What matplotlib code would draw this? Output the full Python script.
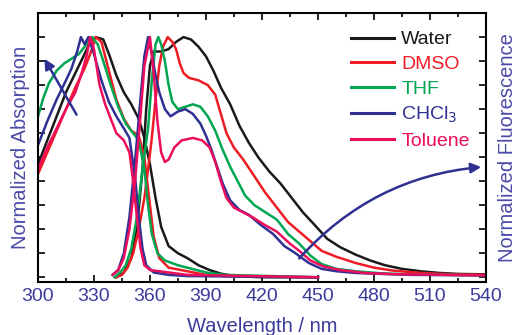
import matplotlib.pyplot as plt
from matplotlib.ticker import MultipleLocator, NullFormatter

plt.rcParams['font.family'] = ['Liberation Sans', 'DejaVu Sans']

# ---- absorption spectra (wavelength nm, normalized value) ----
water_abs_x = [300, 305, 310, 315, 320, 325, 328, 331, 335, 338, 342, 346, 350, 354, 357, 360, 363, 366, 370, 375, 380, 386, 392, 398, 405, 420, 450]
water_abs_y = [0.47, 0.57, 0.67, 0.77, 0.85, 0.93, 0.98, 1.0, 0.99, 0.93, 0.84, 0.77, 0.72, 0.66, 0.58, 0.47, 0.33, 0.21, 0.13, 0.1, 0.08, 0.05, 0.03, 0.015, 0.005, 0.0, 0.0]

dmso_abs_x = [300, 305, 310, 315, 320, 325, 328, 331, 334, 338, 342, 346, 350, 354, 357, 360, 362, 365, 370, 380, 390, 400, 450]
dmso_abs_y = [0.43, 0.52, 0.61, 0.7, 0.79, 0.87, 0.93, 1.0, 0.98, 0.86, 0.74, 0.66, 0.61, 0.59, 0.5, 0.3, 0.17, 0.08, 0.04, 0.025, 0.01, 0.005, 0.0]

thf_abs_x = [300, 303, 306, 310, 314, 318, 322, 325, 329, 332, 335, 339, 343, 347, 351, 354, 357, 359, 361, 364, 368, 375, 380, 390, 400, 450]
thf_abs_y = [0.67, 0.75, 0.81, 0.86, 0.89, 0.91, 0.93, 0.96, 1.0, 0.97, 0.9, 0.8, 0.71, 0.64, 0.6, 0.57, 0.45, 0.3, 0.18, 0.1, 0.07, 0.05, 0.04, 0.02, 0.01, 0.0]

chcl3_abs_x = [300, 305, 310, 315, 318, 321, 323, 325, 327, 330, 334, 338, 342, 346, 349, 352, 354, 356, 358, 362, 370, 380, 450]
chcl3_abs_y = [0.55, 0.65, 0.74, 0.82, 0.87, 0.94, 1.0, 0.97, 1.0, 0.93, 0.82, 0.73, 0.67, 0.62, 0.58, 0.42, 0.25, 0.12, 0.05, 0.02, 0.01, 0.005, 0.0]

tol_abs_x = [300, 305, 310, 315, 320, 323, 326, 328, 330, 333, 336, 339, 342, 346, 349, 351, 353, 355, 357, 360, 370, 380, 450]
tol_abs_y = [0.45, 0.54, 0.62, 0.7, 0.77, 0.84, 0.92, 1.0, 0.95, 0.8, 0.72, 0.66, 0.6, 0.57, 0.52, 0.4, 0.25, 0.12, 0.05, 0.03, 0.02, 0.01, 0.0]

# ---- fluorescence spectra ----
water_fl_x = [342, 346, 350, 353, 356, 358, 360, 362, 366, 370, 374, 378, 382, 386, 390, 394, 398, 403, 408, 413, 418, 424, 430, 436, 442, 448, 455, 462, 470, 478, 486, 495, 505, 515, 525, 540]
water_fl_y = [0.0, 0.02, 0.08, 0.2, 0.45, 0.7, 0.88, 0.94, 0.94, 0.95, 0.98, 1.0, 0.99, 0.96, 0.92, 0.86, 0.79, 0.72, 0.63, 0.56, 0.5, 0.44, 0.39, 0.33, 0.27, 0.22, 0.16, 0.125, 0.095, 0.07, 0.05, 0.035, 0.025, 0.018, 0.014, 0.012]

dmso_fl_x = [342, 345, 348, 351, 354, 357, 359, 361, 363, 365, 367, 369.5, 372, 374, 376, 378, 381, 386, 391, 395, 398, 401, 405, 410, 416, 422, 428, 434, 440, 446, 452, 460, 470, 480, 490, 505, 520, 540]
dmso_fl_y = [0.0, 0.01, 0.04, 0.1, 0.2, 0.33, 0.45, 0.58, 0.74, 0.88, 0.96, 1.0, 0.98, 0.95, 0.89, 0.85, 0.83, 0.82, 0.8, 0.76, 0.68, 0.6, 0.54, 0.49, 0.42, 0.35, 0.29, 0.23, 0.19, 0.15, 0.11, 0.085, 0.06, 0.04, 0.028, 0.018, 0.013, 0.01]

thf_fl_x = [341, 344, 347, 350, 353, 356, 359, 361, 363, 364.5, 366, 368, 370, 372, 375, 379, 383, 387, 391, 395, 399, 403, 407, 411, 416, 422, 428, 434, 440, 446, 452, 460, 470, 485, 500, 540]
thf_fl_y = [0.0, 0.02, 0.05, 0.12, 0.25, 0.45, 0.62, 0.82, 0.97, 1.0, 0.97, 0.9, 0.8, 0.73, 0.7, 0.71, 0.72, 0.71, 0.67, 0.61, 0.53, 0.46, 0.4, 0.34, 0.3, 0.27, 0.24, 0.18, 0.14, 0.09, 0.055, 0.035, 0.025, 0.016, 0.012, 0.008]

chcl3_fl_x = [340, 343, 346, 349, 352, 355, 357, 359, 361, 363, 365, 368, 371, 375, 379, 383, 387, 390, 393, 396, 399, 403, 408, 413, 419, 426, 432, 438, 445, 452, 460, 470, 480, 500, 540]
chcl3_fl_y = [0.01, 0.03, 0.1, 0.25, 0.48, 0.75, 0.92, 1.0, 0.93, 0.84, 0.77, 0.7, 0.67, 0.69, 0.7, 0.68, 0.64, 0.59, 0.53, 0.46, 0.39, 0.32, 0.28, 0.26, 0.22, 0.18, 0.13, 0.1, 0.06, 0.035, 0.025, 0.018, 0.015, 0.01, 0.008]

tol_fl_x = [340, 343, 346, 349, 352, 355, 357, 360, 362, 364, 366, 368, 370, 373, 377, 383, 388, 392, 395, 398, 401, 405, 410, 415, 421, 428, 435, 440, 446, 453, 462, 475, 490, 540]
tol_fl_y = [0.01, 0.03, 0.08, 0.2, 0.4, 0.68, 0.88, 1.0, 0.85, 0.65, 0.52, 0.48, 0.49, 0.54, 0.57, 0.58, 0.57, 0.54, 0.48, 0.4, 0.33, 0.29, 0.27, 0.25, 0.22, 0.19, 0.14, 0.11, 0.07, 0.045, 0.03, 0.018, 0.013, 0.008]

labels = ['Water', 'DMSO', 'THF', 'CHCl$_3$', 'Toluene']
colors = ['#1a1a1a', '#ee1c25', '#00a651', '#2e3192', '#ec0d5c']
abs_x = [water_abs_x, dmso_abs_x, thf_abs_x, chcl3_abs_x, tol_abs_x]
abs_y = [water_abs_y, dmso_abs_y, thf_abs_y, chcl3_abs_y, tol_abs_y]
fl_x = [water_fl_x, dmso_fl_x, thf_fl_x, chcl3_fl_x, tol_fl_x]
fl_y = [water_fl_y, dmso_fl_y, thf_fl_y, chcl3_fl_y, tol_fl_y]

text_col = '#3b3b9b'
label_col = '#4a4aa8'

fig = plt.figure(figsize=(5.16, 3.35), dpi=100)
ax = fig.add_axes([0.0736, 0.158, 0.868, 0.803])

for i in range(5):
    ax.plot(abs_x[i], abs_y[i], color=colors[i], lw=1.8, solid_joinstyle='round')
    ax.plot(fl_x[i], fl_y[i], color=colors[i], lw=1.8, label=labels[i], solid_joinstyle='round')

ax.set_xlim(300, 540)
ax.set_ylim(-0.02, 1.1)
ax.xaxis.set_major_locator(MultipleLocator(30))
ax.xaxis.set_minor_locator(MultipleLocator(15))
ax.yaxis.set_major_locator(MultipleLocator(0.1))
ax.yaxis.set_major_formatter(NullFormatter())
ax.tick_params(which='both', direction='in', top=True, right=True, width=1.2, colors='black',
               labelcolor=text_col, labelsize=14, pad=4)
ax.tick_params(which='major', length=5)
ax.tick_params(which='minor', length=3)
for s in ax.spines.values():
    s.set_linewidth(1.5)

ax.set_xlabel('Wavelength / nm', color=text_col, fontsize=14.5, labelpad=9)
ax.set_ylabel('Normalized Absorption', color=label_col, fontsize=14.5, labelpad=2)
ax.text(1.049, 0.5, 'Normalized Fluorescence', transform=ax.transAxes, rotation=90,
        va='center', ha='center', color=label_col, fontsize=14.5)

leg = ax.legend(loc='upper left', bbox_to_anchor=(0.70, 0.934), frameon=False, fontsize=14,
                handlelength=2.2, handletextpad=0.36, labelspacing=0.36,
                borderaxespad=0, borderpad=0)
for t, l in zip(leg.get_texts(), leg.get_lines()):
    t.set_color(l.get_color())
    l.set_linewidth(2.2)

# arrows
ax.annotate('', xy=(302.7, 0.92), xytext=(321.4, 0.667),
            arrowprops=dict(arrowstyle='-|>,head_length=0.6,head_width=0.3', color='#2e3192', lw=1.8))
ax.annotate('', xy=(539, 0.46), xytext=(439, 0.07),
            arrowprops=dict(arrowstyle='-|>,head_length=0.6,head_width=0.3', color='#2e3192', lw=1.8,
                            connectionstyle='arc3,rad=-0.2'))

fig.savefig('out.png', dpi=100)
